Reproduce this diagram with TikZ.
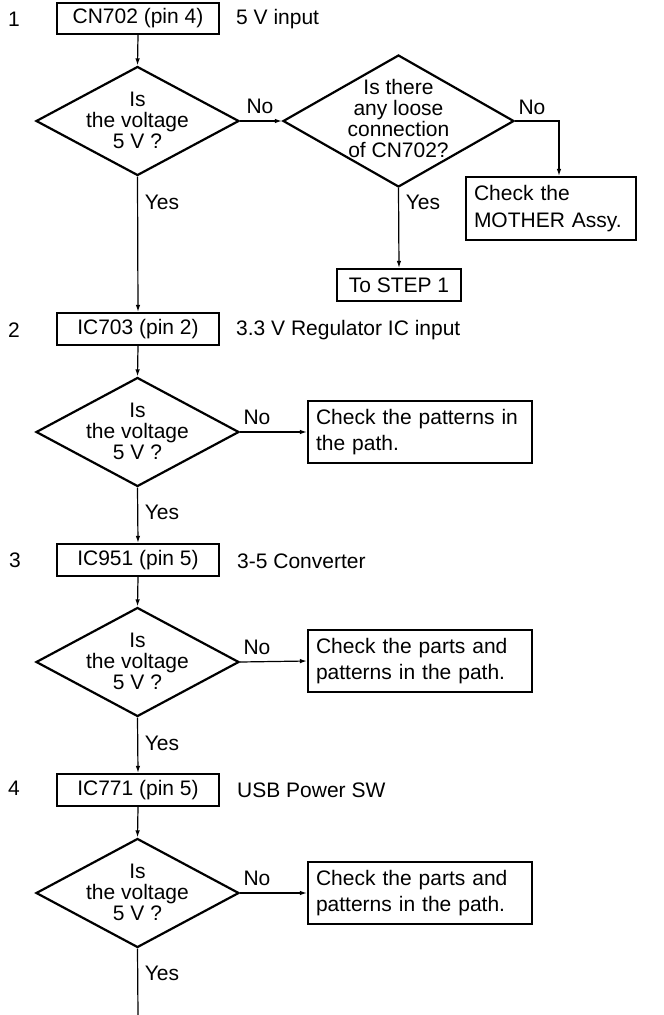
\documentclass[tikz,border=0pt]{standalone}
\usepackage{fontspec}
\setmainfont{Liberation Sans}
\usetikzlibrary{shapes.geometric,arrows.meta}
\begin{document}
\begin{tikzpicture}[x=1pt,y=-1pt,
  every node/.style={font=\fontsize{21}{21}\selectfont, inner sep=0pt},
  stepbox/.style={draw, line width=2.2pt, minimum width=162pt, minimum height=31pt},
  dia/.style={draw, diamond, line width=2.2pt, minimum width=203pt, minimum height=109pt, inner sep=0pt},
  dtext/.style={align=center, font=\fontsize{21}{21}\selectfont},
  chk/.style={draw, line width=2.2pt, minimum width=224pt, minimum height=62pt, align=left, text width=208pt, font=\fontsize{21}{26}\selectfont},
  conn/.style={line width=1.2pt, -{Latex[length=7pt,width=4.5pt]}},
  plain/.style={line width=1.2pt},
  side/.style={anchor=west}
]
\useasboundingbox (0,0) rectangle (664,1015);

% Step 1
\node (n1) at (14,19) {1};
\node[stepbox] (b1) at (138,18.5) {CN702 (pin 4)};
\node[side] (l1) at (236,19) {5 V input};
\node[dia] (d1) at (137.5,121) {};
\node[dtext] (d1t) at (137.5,120) {Is\\the voltage\\5 V ?};
\node[dia, minimum width=231pt, minimum height=132pt] (d2) at (398.5,121) {};
\node[dtext] (d2t) at (398.5,118) {Is there\\any loose\\connection\\of CN702?};
\node[draw, line width=2.2pt, minimum width=170pt, minimum height=63pt, align=left, text width=154pt, font=\fontsize{21}{27}\selectfont] (m) at (551,208.5) {Check the\\MOTHER Assy.};
\node[stepbox, minimum width=124pt, minimum height=32pt] (s1) at (399,285) {To STEP 1};
\node (no1) at (260,106) {No};
\node (no2) at (532,107) {No};
\node (yes1) at (162,202) {Yes};
\node (yes2) at (423,202) {Yes};

\draw[conn] (b1.south) -- (d1.north);
\draw[conn] (d1.east) -- (d2.west);
\draw[conn] (d2.east) -| ([xshift=8pt]m.north);
\draw[conn] (d2.south) -- (s1.north);

% Step 2
\node (n2) at (14,330) {2};
\node[stepbox, minimum height=32pt] (b2) at (138,329) {IC703 (pin 2)};
\node[side] (l2) at (236,330) {3.3 V Regulator IC input};
\draw[conn] (d1.south) -- (b2.north);
\node[dia] (d3) at (137.5,432) {};
\node[dtext] (d3t) at (137.5,431) {Is\\the voltage\\5 V ?};
\node[chk] (r3) at (420,432) {Check the patterns in\\the path.};
\node (no3) at (257,417) {No};
\node (yes3) at (162,512) {Yes};
\draw[conn] (b2.south) -- (d3.north);
\draw[conn] (d3.east) -- (r3.west);

% Step 3
\node (n3) at (15,560) {3};
\node[stepbox, minimum height=32pt] (b3) at (138,560) {IC951 (pin 5)};
\node[side] (l3) at (237,561) {3-5 Converter};
\draw[conn] (d3.south) -- (b3.north);
\node[dia] (d4) at (137.5,662) {};
\node[dtext] (d4t) at (137.5,661) {Is\\the voltage\\5 V ?};
\node[chk] (r4) at (420,661) {Check the parts and\\patterns in the path.};
\node (no4) at (257,647) {No};
\node (yes4) at (162,743) {Yes};
\draw[conn] (b3.south) -- (d4.north);
\draw[conn] (d4.east) -- (r4.west);

% Step 4
\node (n4) at (14,788) {4};
\node[stepbox, minimum height=32pt] (b4) at (138,790) {IC771 (pin 5)};
\node[side] (l4) at (237,790) {USB Power SW};
\draw[conn] (d4.south) -- (b4.north);
\node[dia] (d5) at (137.5,893) {};
\node[dtext] (d5t) at (137.5,892) {Is\\the voltage\\5 V ?};
\node[chk] (r5) at (420,893) {Check the parts and\\patterns in the path.};
\node (no5) at (257,878) {No};
\node (yes5) at (162,973) {Yes};
\draw[conn] (b4.south) -- (d5.north);
\draw[conn] (d5.east) -- (r5.west);
\coordinate (end) at (138,1015);
\draw[plain] (d5.south) -- (end);
\end{tikzpicture}
\end{document}
